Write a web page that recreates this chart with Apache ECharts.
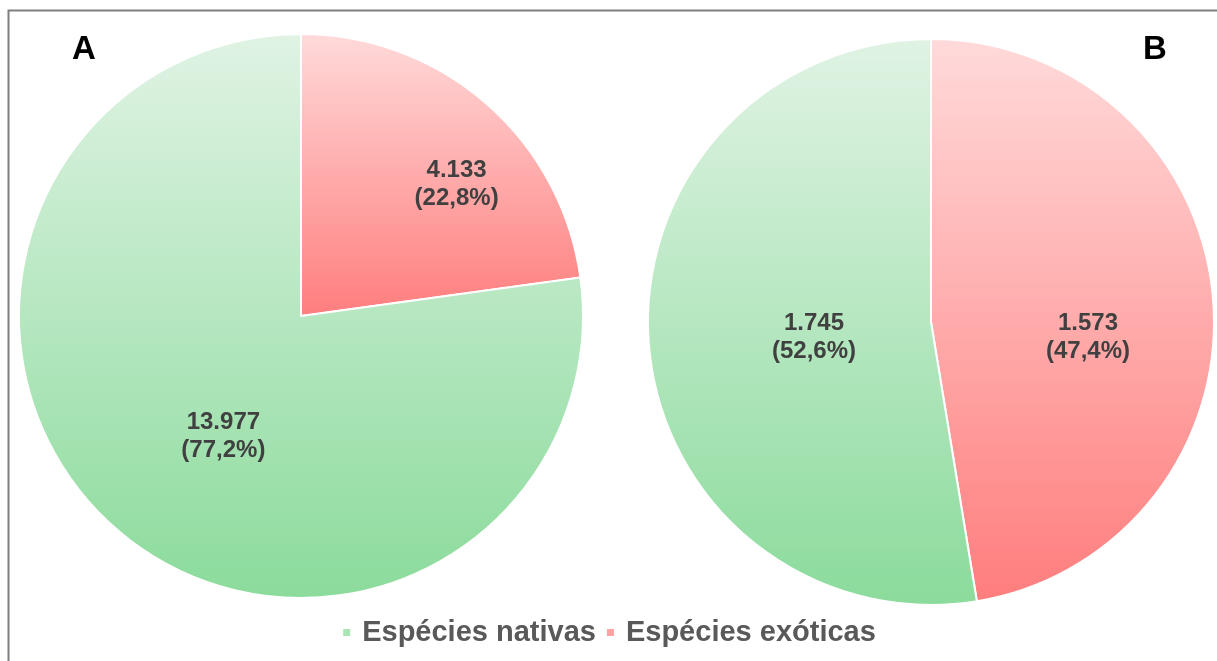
<!DOCTYPE html>
<html><head><meta charset="utf-8">
<script src="https://cdn.jsdelivr.net/npm/echarts@6/dist/echarts.min.js"></script>
<style>html,body{margin:0;padding:0;background:#fff}#c{width:1217px;height:661px}</style>
</head><body><div id="c"></div>
<script>
const categories = ['Espécies exóticas', 'Espécies nativas'];
const valuesA = [4133, 13977];
const valuesB = [1573, 1745];
const panelLabels = ['A', 'B'];
const legendOrder = ['Espécies nativas', 'Espécies exóticas'];

const grad = (top, bottom) => ({type:'linear', x:0, y:0, x2:0, y2:1,
  colorStops:[{offset:0,color:top},{offset:1,color:bottom}]});
const styles = {
  'Espécies exóticas': grad('#ffdada', '#ff7d7d'),
  'Espécies nativas': grad('#e0f3e4', '#8bdb9c')
};
const fmt = v => v.toLocaleString('de-DE');
const pct = (v, tot) => (v / tot * 100).toFixed(1).replace('.', ',');
const offsetsA = [[61, -23], [17, 12]];
const offsetsB = [[13, 27], [27, 4]];

function makeSeries(vals, center, radius, offsets) {
  const tot = vals.reduce((a, b) => a + b, 0);
  return {
    type: 'pie', center: center, radius: radius, startAngle: 90, clockwise: true,
    silent: true, animation: false,
    itemStyle: {borderColor: '#fff', borderWidth: 2},
    label: {position: 'inside', fontFamily: 'Liberation Sans', fontWeight: 'bold',
      fontSize: 24, color: '#404040', lineHeight: 28},
    labelLine: {show: false},
    data: categories.map((c, i) => ({
      name: c, value: vals[i],
      itemStyle: {color: styles[c]},
      label: {formatter: fmt(vals[i]) + '\n(' + pct(vals[i], tot) + '%)', offset: offsets[i]}
    }))
  };
}

const chart = echarts.init(document.getElementById('c'), null, {renderer: 'canvas'});
chart.setOption({
  backgroundColor: '#fff',
  legend: {
    bottom: 9, left: 'center', itemWidth: 9, itemHeight: 9, itemGap: 9, icon: 'rect',
    textStyle: {fontFamily: 'Liberation Sans', fontWeight: 'bold', fontSize: 29, color: '#595959', padding: [0, 0, 0, 6]},
    data: [
      {name: legendOrder[0], itemStyle: {color: '#a9e4b5'}},
      {name: legendOrder[1], itemStyle: {color: '#ffa3a3'}}
    ]
  },
  graphic: [
    {type: 'rect', shape: {x: 8.5, y: 10.5, width: 1220, height: 660},
      style: {fill: 'none', stroke: '#7f7f7f', lineWidth: 2}, silent: true},
    {type: 'text', x: 84, y: 50, style: {text: panelLabels[0], fontFamily: 'Liberation Sans', fontWeight: 'bold',
      fontSize: 33, fill: '#000', align: 'center', verticalAlign: 'middle'}},
    {type: 'text', x: 1155, y: 50, style: {text: panelLabels[1], fontFamily: 'Liberation Sans', fontWeight: 'bold',
      fontSize: 33, fill: '#000', align: 'center', verticalAlign: 'middle'}}
  ],
  series: [
    makeSeries(valuesA, [301, 316], 282, offsetsA),
    makeSeries(valuesB, [931, 322], 283, offsetsB)
  ]
});
</script></body></html>
